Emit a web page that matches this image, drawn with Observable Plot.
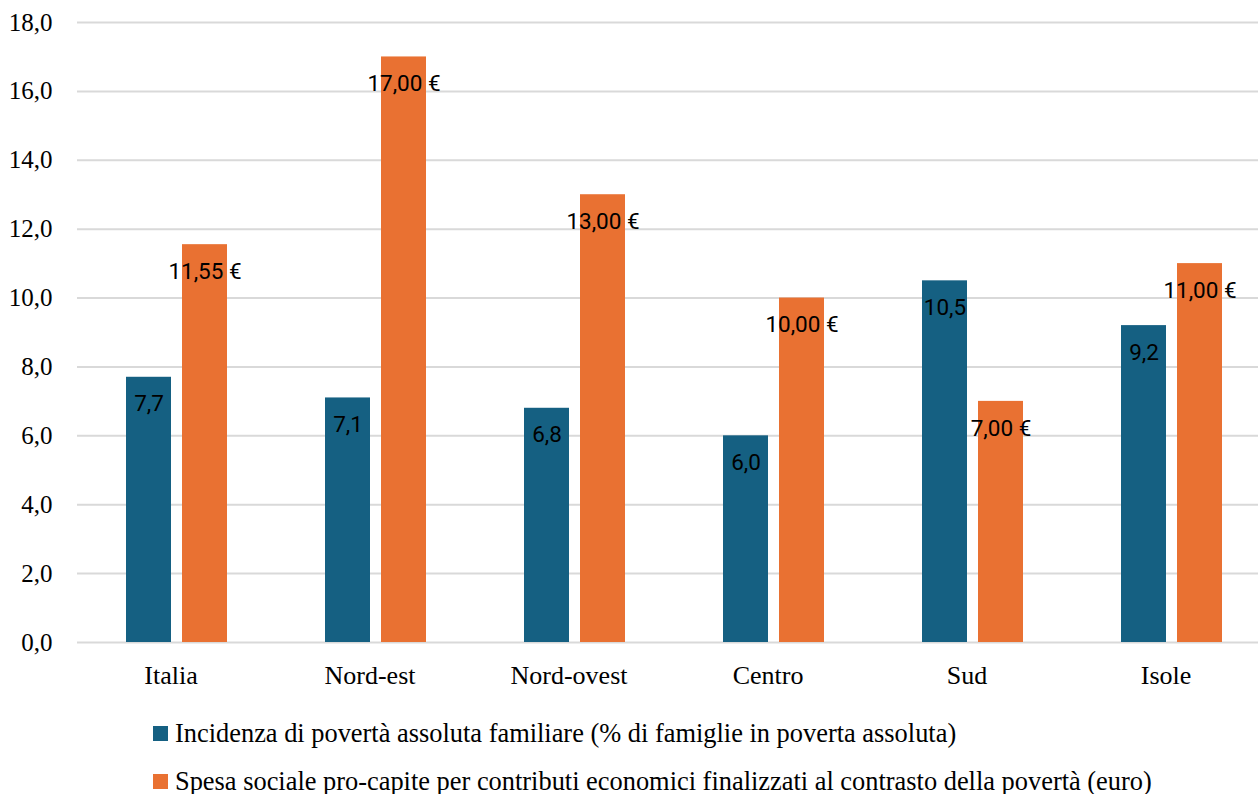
<!DOCTYPE html>
<html><head><meta charset="utf-8">
<script src="https://cdn.jsdelivr.net/npm/d3@7"></script>
<script src="https://cdn.jsdelivr.net/npm/@observablehq/plot@0.6"></script>
<style>
html,body{margin:0;padding:0;background:#fff;overflow:hidden;width:1258px;height:794px}
#legend{font-family:"Liberation Serif",serif;font-size:26.4px;color:#000;margin-left:153px;padding-top:9px}
.item{display:flex;align-items:center;height:48px;white-space:nowrap}
.sw{width:15px;height:15px;margin-right:7px;flex:none}
</style></head><body><div id="chart"></div><div id="legend"></div>
<script>
const categories = ["Italia","Nord-est","Nord-ovest","Centro","Sud","Isole"];
const incidenza = [7.7, 7.1, 6.8, 6.0, 10.5, 9.2];
const spesa = [11.55, 17.00, 13.00, 10.00, 7.00, 11.00];
const seriesNames = [
  "Incidenza di povertà assoluta familiare (% di famiglie in poverta assoluta)",
  "Spesa sociale pro-capite per contributi economici finalizzati al contrasto della povertà (euro)"
];
const seriesColors = ["#156082", "#E97132"];
const yTicks = [0, 2, 4, 6, 8, 10, 12, 14, 16, 18];

const loc = d3.formatLocale({decimal: ",", thousands: ".", grouping: [3]});
const f1 = loc.format(".1f");
const f2 = loc.format(".2f");

const rows = [];
categories.forEach((c, i) => {
  rows.push({cat: c, series: seriesNames[0], value: incidenza[i], label: f1(incidenza[i])});
  rows.push({cat: c, series: seriesNames[1], value: spesa[i], label: f2(spesa[i]) + "\u00a0€"});
});

const serif = "Liberation Serif";
const sans = "Roboto";

const chart = Plot.plot({
  width: 1258,
  height: 700,
  marginTop: 22,
  marginBottom: 58,
  marginLeft: 75,
  marginRight: -14,
  style: {fontFamily: serif, background: "#fff", overflow: "hidden"},
  fx: {domain: categories, padding: 0, label: null, axis: null},
  x: {domain: seriesNames, axis: null, paddingInner: 0.196, paddingOuter: 0.873},
  y: {domain: [0, 18], label: null, axis: null},
  color: {domain: seriesNames, range: seriesColors},
  marks: [
    Plot.ruleY(yTicks, {stroke: "#d9d9d9", strokeWidth: 2}),
    Plot.barY(rows, {fx: "cat", x: "series", y: "value", fill: "series"}),
    Plot.text(rows, {fx: "cat", x: "series", y: "value", text: "label", dy: 27, fontSize: 22.5, fontFamily: sans, fill: "#000"}),
    Plot.axisY(yTicks, {tickSize: 0, tickPadding: 25, tickFormat: f1, fontSize: 25, fontFamily: serif, label: null, fill: "#000"}),
    Plot.axisFx({anchor: "bottom", tickSize: 0, tickPadding: 23, dx: -6, fontSize: 26, fontFamily: serif, label: null, fill: "#000"})
  ]
});
document.getElementById("chart").appendChild(chart);

const legend = document.getElementById("legend");
seriesNames.forEach((n, i) => {
  const it = document.createElement("div");
  it.className = "item";
  const sw = document.createElement("span");
  sw.className = "sw";
  sw.style.background = seriesColors[i];
  const t = document.createElement("span");
  t.textContent = n;
  it.appendChild(sw); it.appendChild(t);
  legend.appendChild(it);
});
</script></body></html>
